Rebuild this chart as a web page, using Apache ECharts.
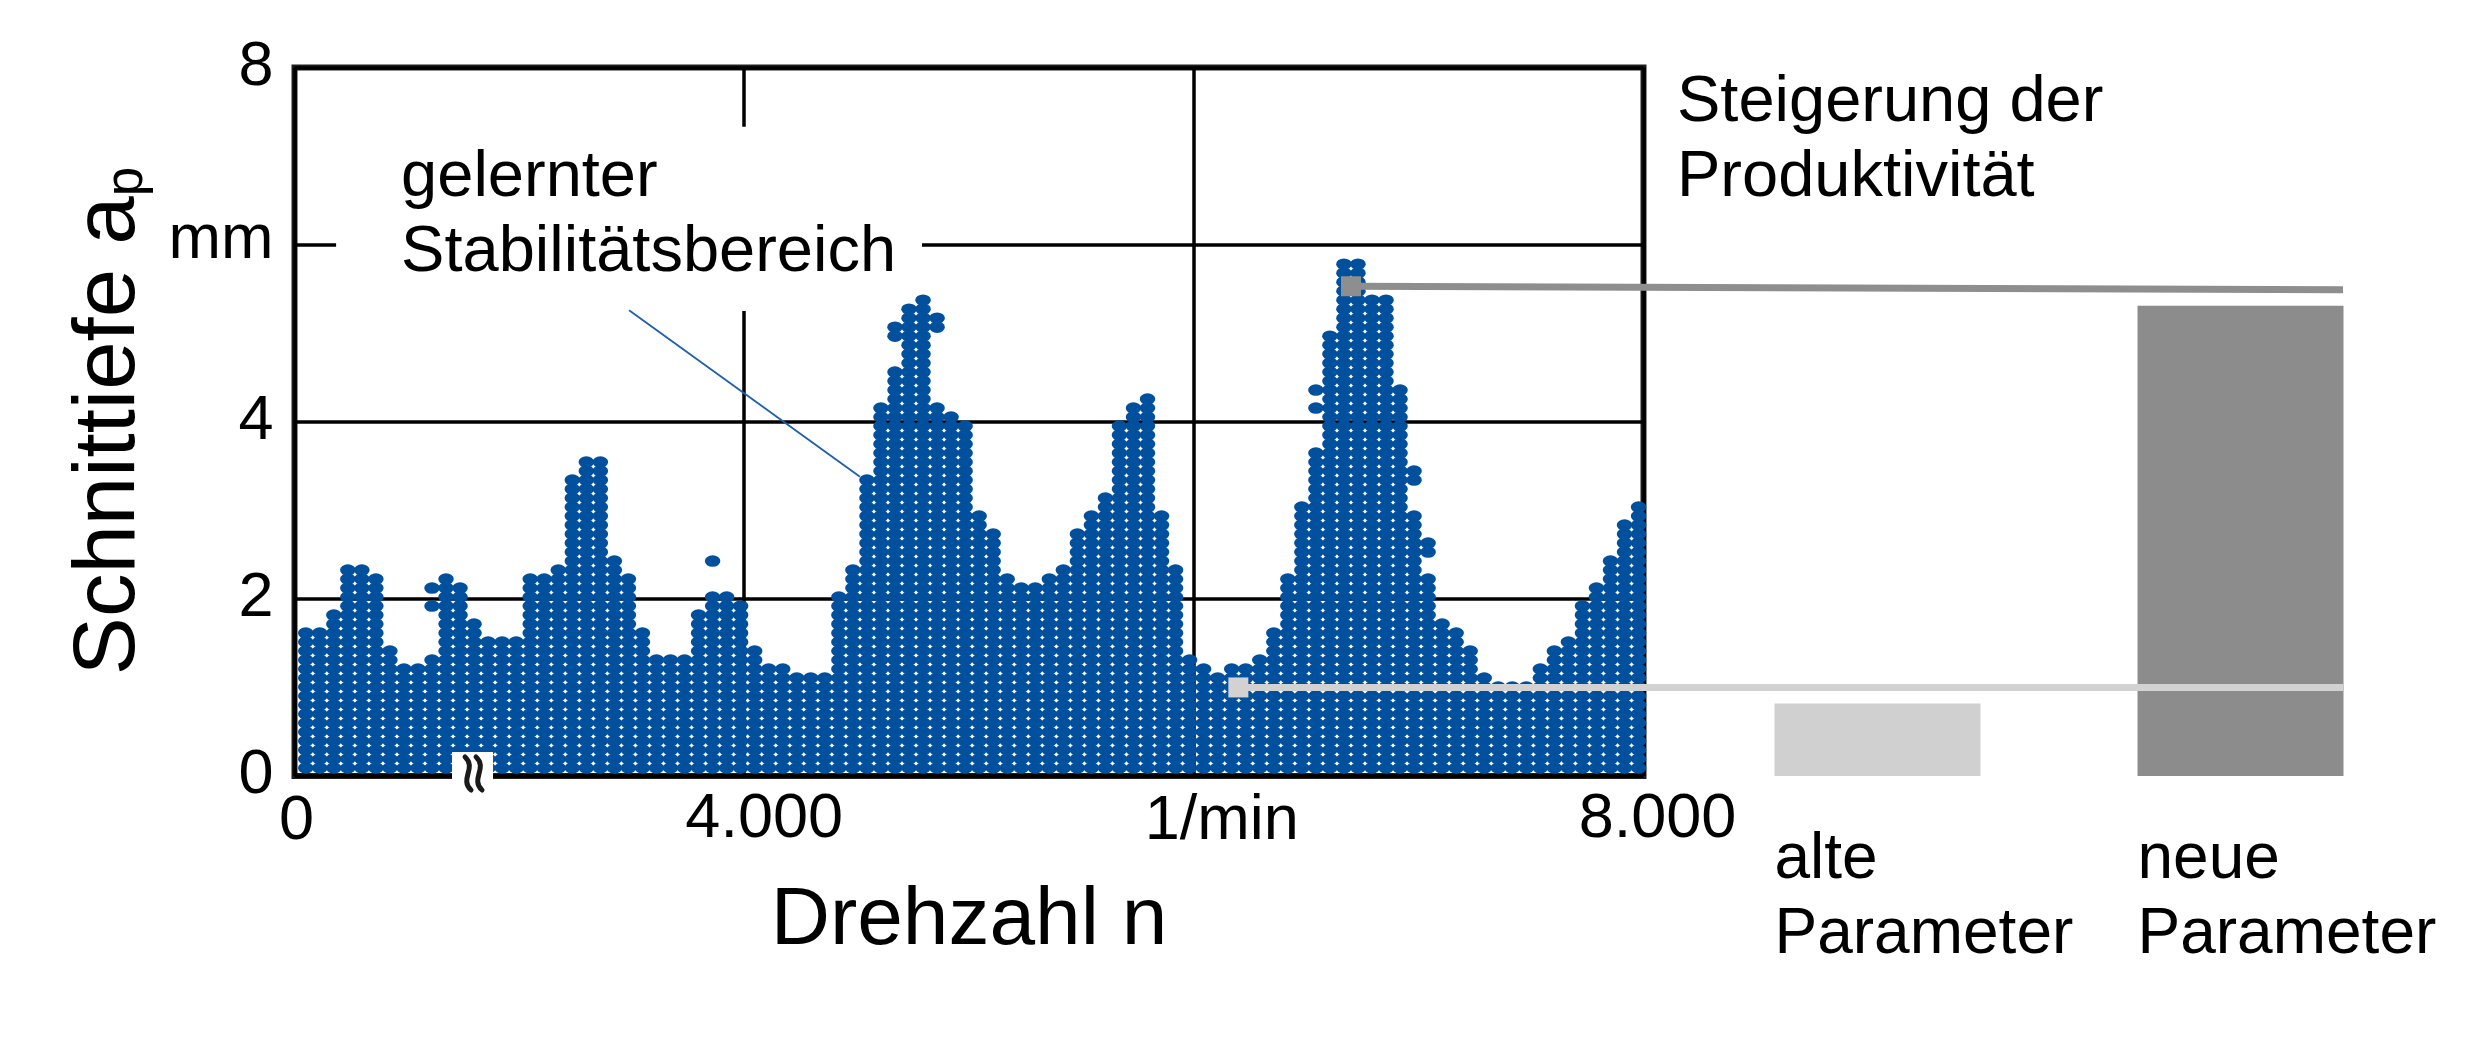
<!DOCTYPE html>
<html><head><meta charset="utf-8">
<script src="https://cdn.jsdelivr.net/npm/echarts@6/dist/echarts.min.js"></script>
<style>html,body{margin:0;padding:0;background:#fff}#c{width:2491px;height:1039px}</style>
</head><body><div id="c"></div>
<script>
// ---- data ----
// number of stable dots (rows) in each rpm column, left to right
const colRows = [
  16,16,18,23,23,22,14,12,12,13,
  22,21,17,15,15,15,22,22,23,33,
  35,35,24,22,16,13,13,13,18,20,
  20,19,14,12,12,11,11,11,20,23,
  33,41,45,52,53,41,40,39,29,27,
  22,21,21,22,23,27,29,31,39,41,
  42,29,23,13,12,11,12,12,13,16,
  22,30,36,49,57,57,53,53,43,29,
  22,17,16,14,11,10,10,10,12,14,
  15,19,21,24,28,30
];
// isolated dots: [column index, row index]
const extraDots = [[9,18],[9,20],[29,23],[42,48],[42,49],[45,49],[45,50],[72,40],[72,42],[79,32],[79,33],[80,24],[80,25]];
const rpmFirst = 2050, rpmStep = 62.4;     // rpm of first column, column spacing
const rowBase = 0.09, rowStep = 0.1016;    // depth of first row, row spacing (mm)
const xTickValues = [2000, 4000, 6000, 8000];
const xTickLabels = ['0', '4.000', '1/min', '8.000'];
const yTickValues = [0, 2, 4, 6, 8];
const yTickLabels = ['0', '2', '4', 'mm', '8'];
const barCategories = ['alte\nParameter', 'neue\nParameter'];
const barValues = [0.82, 5.31];
const oldParam = [6198, 1.0];
const newParam = [6699, 5.53];
const oldParamEnd = 1.0;
const newParamEnd = 5.49;
const noteLine = [[3488, 5.26], [4515, 3.38]];
const noteBox = [[2185, 7.33], [4791, 5.25]];
const breakAt = 2803;

// ---- chart ----
const FF = "'Liberation Sans', Arial, Helvetica, sans-serif";
const xMin = 2000, xMax = 8000;
const mainLeft = 294.5, mainTop = 67.5, mainWidth = 1349, mainHeight = 708.5;
const linkRight = 2343;
const overlayMax = xMin + (xMax - xMin) * (linkRight - mainLeft) / mainWidth;

const dots = [];
colRows.forEach((rows, k) => {
  const rpm = rpmFirst + k * rpmStep;
  for (let r = 0; r < rows; r++) dots.push([rpm, rowBase + r * rowStep]);
});
extraDots.forEach(([k, r]) => dots.push([rpmFirst + k * rpmStep, rowBase + r * rowStep]));

const xKey = {};
xTickValues.forEach((v, i) => { xKey[v] = i; });
const yLab = {};
yTickValues.forEach((v, i) => { yLab[v] = yTickLabels[i]; });

const chart = echarts.init(document.getElementById('c'));
chart.setOption({
  animation: false,
  backgroundColor: '#fff',
  textStyle: { fontFamily: FF },
  title: {
    text: 'Steigerung der\nProduktivität', left: 1677, top: 65, padding: 0,
    textStyle: { fontSize: 65, lineHeight: 75.6, fontWeight: 'normal', color: '#000', fontFamily: FF }
  },
  grid: [
    { left: mainLeft, top: mainTop, width: mainWidth, height: mainHeight, show: true,
      borderColor: '#1e1e1e', borderWidth: 6, backgroundColor: 'transparent' },
    { left: 1696, top: mainTop, width: 726, height: mainHeight },
    { left: mainLeft, top: mainTop, width: linkRight - mainLeft, height: mainHeight }
  ],
  xAxis: [
    { gridIndex: 0, type: 'value', min: xMin, max: xMax, interval: 2000,
      axisLine: { show: false }, axisTick: { show: false },
      splitLine: { show: true, lineStyle: { color: '#000', width: 3.5 } },
      axisLabel: {
        show: true, showMinLabel: true, showMaxLabel: true, margin: 12,
        color: '#000', fontSize: 63, fontFamily: FF,
        formatter: v => '{l' + xKey[v] + '|' + xTickLabels[xKey[v]] + '}',
        rich: {
          l0: { fontSize: 63, lineHeight: 63, fontFamily: FF, color: '#000', padding: [4, 0, 0, 4] },
          l1: { fontSize: 63, lineHeight: 63, fontFamily: FF, color: '#000', padding: [0, 0, 0, 40] },
          l2: { fontSize: 63, lineHeight: 63, fontFamily: FF, color: '#000', padding: [4, 0, 0, 56] },
          l3: { fontSize: 63, lineHeight: 63, fontFamily: FF, color: '#000', padding: [0, 0, 0, 28] }
        }
      },
      name: 'Drehzahl n', nameLocation: 'middle', nameGap: 104,
      nameTextStyle: { fontSize: 82, lineHeight: 82, color: '#000', fontFamily: FF }
    },
    { gridIndex: 1, type: 'category', data: barCategories, show: false },
    { gridIndex: 2, type: 'value', min: xMin, max: overlayMax, show: false }
  ],
  yAxis: [
    { gridIndex: 0, type: 'value', min: 0, max: 8, interval: 2,
      axisLine: { show: false }, axisTick: { show: false },
      splitLine: { show: true, lineStyle: { color: '#000', width: 3.5 } },
      axisLabel: {
        show: true, showMinLabel: true, showMaxLabel: true, margin: 21,
        color: '#000', fontSize: 63, fontFamily: FF,
        formatter: v => v === 6 ? '{mm|' + yLab[v] + '}' : '{d|' + yLab[v] + '}',
        rich: {
          d: { fontSize: 63, lineHeight: 63, fontFamily: FF, color: '#000' },
          mm: { fontSize: 63, lineHeight: 63, fontFamily: FF, color: '#000', padding: [0, 0, 8, 0] }
        }
      }
    },
    { gridIndex: 1, type: 'value', min: 0, max: 8, show: false },
    { gridIndex: 2, type: 'value', min: 0, max: 8, show: false }
  ],
  series: [
    { type: 'scatter', xAxisIndex: 0, yAxisIndex: 0, data: dots, silent: true, z: 2,
      symbol: 'circle', symbolSize: [15.5, 11.5], itemStyle: { color: '#00509E', opacity: 1 } },
    { type: 'line', xAxisIndex: 0, yAxisIndex: 0, data: noteLine, silent: true, z: 5,
      symbol: 'none', lineStyle: { color: '#1f5fae', width: 1.8 },
      markArea: {
        silent: true,
        itemStyle: { color: '#ffffff', opacity: 1 },
        label: {
          show: true, position: [65, 14], align: 'left', verticalAlign: 'top',
          fontSize: 65, lineHeight: 74.5, color: '#000', fontFamily: FF
        },
        data: [[{ coord: noteBox[0], name: 'gelernter\nStabilitätsbereich' }, { coord: noteBox[1] }]]
      }
    },
    { type: 'bar', xAxisIndex: 1, yAxisIndex: 1, barWidth: 206, silent: true, z: 3,
      data: [
        { value: barValues[0], itemStyle: { color: '#d0d0d0' } },
        { value: barValues[1], itemStyle: { color: '#8c8c8c' } }
      ],
      label: {
        show: true, position: ['0%', '100%'], offset: [0, 47], align: 'left', verticalAlign: 'top',
        formatter: '{b}', fontSize: 64, lineHeight: 75, color: '#000', fontFamily: FF
      }
    },
    { type: 'line', xAxisIndex: 2, yAxisIndex: 2, silent: true, z: 8, showAllSymbol: true,
      data: [
        { value: oldParam, symbol: 'rect', symbolSize: 20 },
        { value: [overlayMax, oldParamEnd], symbol: 'none' }
      ],
      lineStyle: { color: '#d2d2d2', width: 7 }, itemStyle: { color: '#d2d2d2' } },
    { type: 'line', xAxisIndex: 2, yAxisIndex: 2, silent: true, z: 8, showAllSymbol: true,
      data: [
        { value: newParam, symbol: 'rect', symbolSize: 20 },
        { value: [overlayMax, newParamEnd], symbol: 'none' }
      ],
      lineStyle: { color: '#8e8e8e', width: 7 }, itemStyle: { color: '#8e8e8e' } }
  ]
});

const bx = chart.convertToPixel({ xAxisIndex: 0 }, breakAt);
const by = chart.convertToPixel({ yAxisIndex: 0 }, 0);
function wave(cx) {
  return { type: 'bezierCurve', z: 101, silent: true,
    shape: { x1: cx - 3, y1: by - 19, cpx1: cx + 9, cpy1: by - 8, cpx2: cx - 9, cpy2: by + 3, x2: cx + 3, y2: by + 14 },
    style: { stroke: '#1a1a1a', lineWidth: 5, fill: null, lineCap: 'round' } };
}
chart.setOption({
  graphic: [
    { type: 'text', x: 110.5, y: 421, rotation: Math.PI / 2, z: 100, silent: true,
      style: {
        text: '{n|Schnittiefe a}{s|p}', align: 'center', verticalAlign: 'middle',
        rich: {
          n: { fontSize: 87, lineHeight: 87, fontFamily: FF, fill: '#000' },
          s: { fontSize: 53, lineHeight: 45, verticalAlign: 'bottom', fontFamily: FF, fill: '#000' }
        }
      }
    },
    { type: 'rect', z: 100, silent: true,
      shape: { x: bx - 23, y: by - 24, width: 41, height: 54 }, style: { fill: '#fff' } },
    wave(bx - 7),
    wave(bx + 4)
  ]
});
</script>
</body></html>
